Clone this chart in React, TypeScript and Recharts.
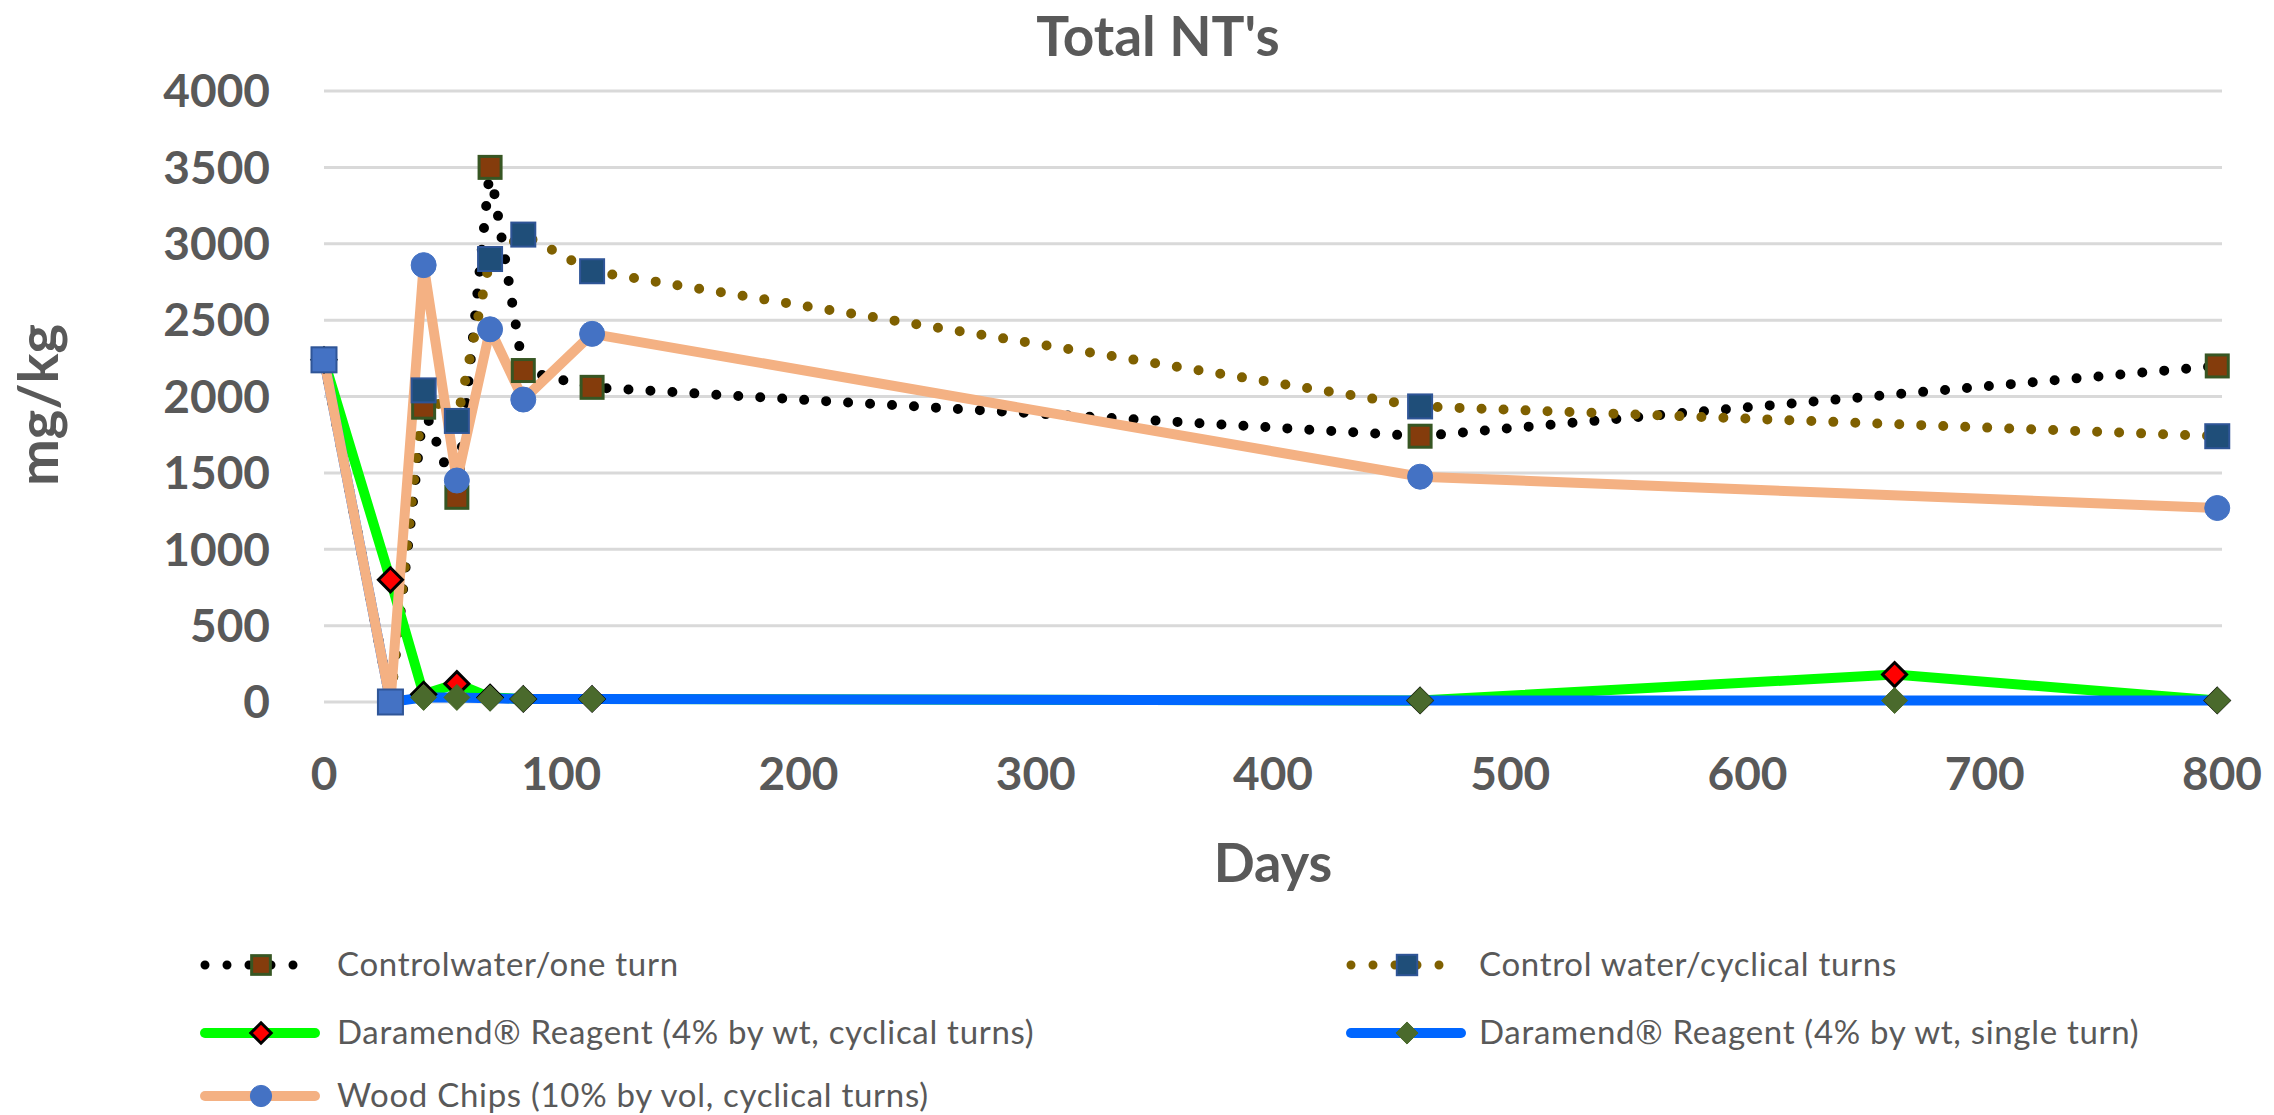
import React from "react";
import { LineChart, Line, XAxis, YAxis, CartesianGrid } from "recharts";

// sampling days
const days = [0, 28, 42, 56, 70, 84, 113, 462, 662, 798];

// mg/kg per series (null = not sampled)
const oneTurn = [2240, 0, 1930, 1340, 3500, 2170, 2060, 1740, null, 2200];
const cyclicalTurns = [2240, 0, 2040, 1840, 2900, 3060, 2820, 1935, null, 1740];
const daramendCyclical = [2240, 800, 50, 120, 30, 20, 20, 10, 180, 10];
const daramendSingle = [2240, 0, 30, 30, 25, 20, 20, 10, 10, 10];
const woodChips = [2240, 0, 2860, 1450, 2440, 1980, 2410, 1475, null, 1270];

const xTicks = [0, 100, 200, 300, 400, 500, 600, 700, 800];
const yTicks = [0, 500, 1000, 1500, 2000, 2500, 3000, 3500, 4000];

const seriesNames = [
  "Controlwater/one turn",
  "Control water/cyclical turns",
  "Daramend\u00AE Reagent (4% by wt, cyclical turns)",
  "Daramend\u00AE Reagent (4% by wt, single turn)",
  "Wood Chips (10% by vol, cyclical turns)",
];

const data = days.map((d, i) => ({
  day: d,
  oneTurn: oneTurn[i],
  cyclicalTurns: cyclicalTurns[i],
  daramendCyclical: daramendCyclical[i],
  daramendSingle: daramendSingle[i],
  woodChips: woodChips[i],
}));

const FONT = "Lato, 'Open Sans', sans-serif";
const GREY = "#595959";

type Kind = "squareBrown" | "squareNavy" | "squareBlue" | "diamondRed" | "diamondGreen" | "circleBlue";

function marker(kind: Kind, cx: number, cy: number, key: any, s = 1) {
  switch (kind) {
    case "squareBrown": {
      const h = 11 * s;
      return <rect key={key} x={cx - h} y={cy - h} width={2 * h} height={2 * h} fill="#843C0C" stroke="#375623" strokeWidth={3} />;
    }
    case "squareNavy": {
      const h = 12 * s;
      return <rect key={key} x={cx - h} y={cy - h} width={2 * h} height={2 * h} fill="#1F4E79" stroke="#2F5597" strokeWidth={2} />;
    }
    case "squareBlue": {
      const h = 12.5 * s;
      return <rect key={key} x={cx - h} y={cy - h} width={2 * h} height={2 * h} fill="#4472C4" stroke="#2F5597" strokeWidth={2} />;
    }
    case "diamondRed": {
      const h = 12 * s;
      return (
        <polygon key={key} points={`${cx},${cy - h} ${cx + h},${cy} ${cx},${cy + h} ${cx - h},${cy}`} fill="#FF0000" stroke="#000" strokeWidth={3} />
      );
    }
    case "diamondGreen": {
      const h = 13 * s;
      return (
        <polygon key={key} points={`${cx},${cy - h} ${cx + h},${cy} ${cx},${cy + h} ${cx - h},${cy}`} fill="#4A6A2C" stroke="#4A6A2C" strokeWidth={1} />
      );
    }
    default:
      return <circle key={key} cx={cx} cy={cy} r={12.5 * s} fill="#4472C4" stroke="#4472C4" strokeWidth={1} />;
  }
}

const series = [
  { key: "oneTurn", color: "#000000", dotted: true, kind: "squareBrown" as Kind },
  { key: "cyclicalTurns", color: "#7F6000", dotted: true, kind: "squareNavy" as Kind },
  { key: "daramendCyclical", color: "#00FF00", dotted: false, kind: "diamondRed" as Kind },
  { key: "daramendSingle", color: "#0066FF", dotted: false, kind: "diamondGreen" as Kind },
  { key: "woodChips", color: "#F4B183", dotted: false, kind: "circleBlue" as Kind },
];

// legend slots: [series index, icon x, text x, row y]
const legendSlots = [
  [0, 199, 337, 965],
  [1, 1345, 1479, 965],
  [2, 199, 337, 1033],
  [3, 1345, 1479, 1033],
  [4, 199, 337, 1096],
];

export default function App() {
  return (
    <div style={{ position: "absolute", left: 0, top: 0, width: 2274, height: 1115, background: "#fff" }}>
      <LineChart width={2274} height={1115} data={data} margin={{ top: 91, right: 52, left: 174, bottom: 313 }}>
        <CartesianGrid vertical={false} stroke="#D9D9D9" strokeWidth={3} />
        <XAxis
          dataKey="day"
          type="number"
          domain={[0, 800]}
          ticks={xTicks}
          axisLine={false}
          tickLine={false}
          tickSize={0}
          tickMargin={55}
          height={100}
          tick={{ fontSize: 46, fontWeight: 700, fill: GREY, fontFamily: FONT }}
        />
        <YAxis
          type="number"
          domain={[0, 4000]}
          ticks={yTicks}
          axisLine={false}
          tickLine={false}
          tickSize={0}
          tickMargin={54}
          width={150}
          tick={{ fontSize: 46, fontWeight: 700, fill: GREY, fontFamily: FONT }}
        />
        {series.map((s) => (
          <Line
            key={s.key}
            type="linear"
            dataKey={s.key}
            stroke={s.color}
            strokeWidth={10}
            strokeDasharray={s.dotted ? "0 22" : undefined}
            strokeLinecap="round"
            strokeLinejoin="round"
            connectNulls
            isAnimationActive={false}
            activeDot={false}
            dot={(p: any) => {
              if (p.cy == null || p.value == null) return <g key={`${s.key}-${p.index}`} />;
              const kind: Kind = s.key === "woodChips" && p.index < 2 ? "squareBlue" : s.kind;
              return marker(kind, p.cx, p.cy, `${s.key}-${p.index}`);
            }}
          />
        ))}
      </LineChart>
      <svg width={2274} height={1115} style={{ position: "absolute", left: 0, top: 0, pointerEvents: "none" }}>
        <text x={1158} y={56} textAnchor="middle" fontFamily={FONT} fontWeight={700} fontSize={55} fill={GREY}>
          Total NT's
        </text>
        <text x={1273} y={882} textAnchor="middle" fontFamily={FONT} fontWeight={700} fontSize={54} fill={GREY}>
          Days
        </text>
        <text
          x={58}
          y={405}
          transform="rotate(-90 58 405)"
          textAnchor="middle"
          fontFamily={FONT}
          fontWeight={700}
          fontSize={56}
          fill={GREY}
        >
          mg/kg
        </text>
        {legendSlots.map(([si, ix, tx, y]) => {
          const s = series[si];
          const x1 = ix + 6;
          const x2 = ix + 116;
          return (
            <g key={si}>
              <line
                x1={x1}
                x2={x2}
                y1={y}
                y2={y}
                stroke={s.color}
                strokeWidth={s.dotted ? 9 : 10}
                strokeDasharray={s.dotted ? "0 22" : undefined}
                strokeLinecap="round"
              />
              {marker(s.kind, ix + 62, y, "m", 0.85)}
              <text x={tx} y={y + 11} fontFamily={FONT} fontSize={33} letterSpacing={0.7} fill={GREY}>
                {seriesNames[si]}
              </text>
            </g>
          );
        })}
      </svg>
    </div>
  );
}
